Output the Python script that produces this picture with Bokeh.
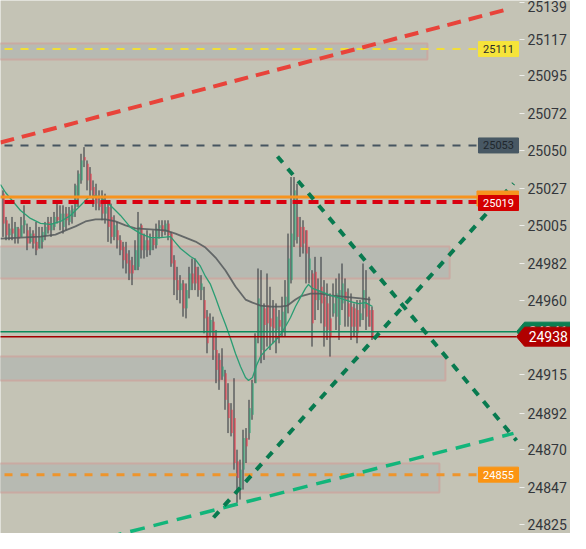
import numpy as np
from bokeh.plotting import figure
from bokeh.models import Range1d, FixedTicker, Label, PolyAnnotation, ColumnDataSource
from bokeh.embed import file_html
from bokeh.resources import INLINE
from bokeh.core.properties import value

# ---------------- data ----------------
opens = [25024, 25008, 24999, 25003, 24998, 25003, 24998, 25005, 25002, 24995,
         25000, 24995, 24991, 24995, 24999, 25007, 25002, 25004, 25010, 25008,
         25004, 25012, 25007, 25010, 25016, 25022, 25032, 25046, 25042, 25036,
         25028, 25022, 25020, 25022, 25012, 25016, 25010, 24998, 25002, 24996,
         24992, 24988, 24984, 24981, 24978, 24980, 25005, 24990, 24996, 24990,
         24997, 24993, 25003, 25005, 25001, 25006, 25000, 24984, 24972, 24966,
         24970, 24955, 24966, 24976, 24980, 24975, 24966, 24960, 24950, 24941,
         24947, 24930, 24924, 24914, 24916, 24898, 24894, 24889, 24863, 24846,
         24858, 24877, 24880, 24891, 24910, 24938, 24930, 24955, 24957, 24949,
         24955, 24942, 24948, 24941, 24945, 24958, 24972, 24996, 25010, 25004,
         25004, 25002, 24978, 24976, 24977, 24960, 24968, 24962, 24958, 24949,
         24952, 24950, 24945, 24958, 24965, 24958, 24956, 24955, 24954, 24948,
         24955, 24958, 24954, 24954]
highs = [25026, 25010, 25006, 25010, 25007, 25004, 25010, 25017, 25006, 25004,
         25002, 25007, 25004, 25004, 25007, 25010, 25010, 25013, 25020, 25017,
         25017, 25016, 25016, 25017, 25030, 25038, 25048, 25052, 25044, 25040,
         25032, 25030, 25026, 25026, 25024, 25020, 25018, 25011, 25007, 24999,
         24995, 24995, 24990, 24986, 24996, 25013, 25006, 25000, 25002, 25000,
         25002, 25006, 25008, 25008, 25008, 25008, 25001, 24987, 24980, 24975,
         24972, 24970, 24980, 24985, 24985, 24980, 24975, 24968, 24954, 24952,
         24950, 24942, 24928, 24931, 24918, 24910, 24898, 24913, 24870, 24864,
         24882, 24883, 24900, 24912, 24940, 24979, 24978, 24958, 24976, 24968,
         24960, 24958, 24954, 24962, 24972, 25000, 25034, 25034, 25030, 25010,
         25008, 25002, 24992, 24978, 24986, 24973, 24986, 24972, 24970, 24964,
         24970, 24973, 24976, 24982, 24973, 24967, 24964, 24958, 24960, 24960,
         24982, 24978, 24962, 24956]
lows = [24998, 24996, 24996, 24996, 24994, 24994, 24998, 25000, 24990, 24994,
        24991, 24987, 24991, 24991, 24996, 25000, 24998, 25002, 25006, 25002,
        25000, 25002, 25005, 25006, 25010, 25016, 25030, 25040, 25026, 25022,
        25016, 25014, 25014, 25008, 25006, 24995, 24994, 24996, 24991, 24987,
        24979, 24976, 24972, 24969, 24978, 24978, 24985, 24985, 24986, 24987,
        24990, 24991, 24997, 24998, 24999, 24996, 24980, 24963, 24960, 24958,
        24950, 24949, 24961, 24966, 24966, 24962, 24960, 24940, 24928, 24938,
        24924, 24910, 24906, 24912, 24894, 24880, 24878, 24858, 24838, 24840,
        24846, 24862, 24876, 24888, 24910, 24934, 24922, 24924, 24932, 24930,
        24934, 24928, 24934, 24938, 24938, 24952, 24970, 24992, 24994, 24986,
        24988, 24970, 24970, 24932, 24948, 24954, 24946, 24932, 24936, 24926,
        24950, 24942, 24936, 24954, 24944, 24944, 24936, 24938, 24934, 24944,
        24948, 24942, 24944, 24936]
closes = [25006, 24999, 25003, 25000, 25004, 24997, 25005, 25008, 24994, 25000,
          24994, 24990, 24998, 25001, 25004, 25002, 25006, 25010, 25008, 25012,
          25012, 25008, 25014, 25015, 25029, 25036, 25044, 25044, 25032, 25026,
          25022, 25018, 25016, 25012, 25016, 25004, 24998, 25005, 24996, 24990,
          24984, 24982, 24976, 24976, 24990, 25004, 24990, 24996, 24990, 24997,
          24993, 25003, 25005, 25001, 25006, 24999, 24982, 24972, 24966, 24970,
          24955, 24966, 24976, 24970, 24970, 24966, 24970, 24949, 24934, 24948,
          24930, 24918, 24912, 24920, 24900, 24889, 24880, 24862, 24853, 24858,
          24877, 24872, 24895, 24910, 24937, 24961, 24957, 24945, 24946, 24944,
          24943, 24950, 24944, 24953, 24962, 24985, 25000, 25026, 24998, 24992,
          24994, 24988, 24985, 24946, 24960, 24966, 24958, 24944, 24942, 24938,
          24958, 24964, 24966, 24970, 24960, 24950, 24944, 24944, 24940, 24952,
          24966, 24950, 24944, 24938]

# moving averages (candle position, price)
ma_fast_x = [-1, 0.67, 2.33, 5.67, 9, 12.33, 15.67, 19, 22.33, 25.67, 28.33, 30.67,
             32.33, 35.67, 39, 42.33, 45.67, 49, 52.33, 55.67, 57.33, 59, 62.33, 64,
             65.67, 67.33, 69, 70.67, 72.33, 74, 75.67, 77.33, 79, 80.67, 81.67, 83,
             84.33, 85.67, 87.33, 89, 90.67, 92.33, 94, 95.67, 97.33, 99, 100.67,
             101.67, 103, 105.67, 109, 112.33, 115.67, 118.33, 120.67, 123]
ma_fast = [25029.5, 25024.7, 25021.1, 25013.9, 25009.1, 25006.1, 25005.5, 25007.3,
           25010.9, 25016.9, 25021.7, 25022.9, 25021.7, 25016.9, 25010.9, 25003.7,
           25000.0, 24997.6, 24997.6, 24998.2, 24994.6, 24991.0, 24986.2, 24984.4,
           24980.2, 24974.2, 24969.4, 24961.6, 24953.1, 24945.3, 24936.9, 24927.9,
           24920.0, 24913.4, 24911.6, 24913.4, 24920.6, 24926.1, 24929.7, 24932.7,
           24935.7, 24939.3, 24944.1, 24949.5, 24956.1, 24961.6, 24967.0, 24969.4,
           24967.0, 24965.2, 24962.8, 24961.0, 24959.1, 24957.9, 24958.5, 24956.1]
ma_slow_x = [-1, 5.67, 12.33, 17.33, 20.67, 24, 27.33, 30.67, 34, 37.33, 40.67, 44,
             49, 54, 57.33, 60.67, 64, 67.33, 70.67, 74, 77.33, 80.67, 83, 85.67,
             89, 92.33, 94.67, 97.33, 99, 102.33, 105.67, 109, 112.33, 115.67, 119,
             122.33]
ma_slow = [24997.0, 24997.6, 24998.2, 24999.4, 25001.9, 25004.3, 25007.3, 25008.5,
           25008.5, 25007.3, 25004.9, 25003.1, 25002.5, 25001.9, 25000.0, 24997.6,
           24995.2, 24991.6, 24985.6, 24977.8, 24968.2, 24960.3, 24958.5, 24956.7,
           24956.1, 24956.1, 24956.7, 24960.3, 24962.2, 24963.9, 24963.9, 24962.8,
           24962.2, 24961.6, 24961.0, 24960.3]

tick_values = [25139, 25117, 25095, 25072, 25050, 25027, 25005, 24982, 24960, 24937,
               24915, 24892, 24870, 24847, 24825]

zone_top = [25114.3, 24992.2, 24926.1, 24861.7]
zone_bottom = [25104.7, 24973.0, 24911.6, 24844.3]
zone_end = [141.3, 148.7, 147.3, 145.3]

level_yellow = 25111
level_slate = 25053
level_orange = 25022
level_red = 25019
level_orange2 = 24855
level_green = 24941
last_price = 24938

trend_red_x = [-1, 169]
trend_red_y = [25054.8, 25135.4]
trend_down_x = [91.33, 171]
trend_down_y = [25046.4, 24875.5]
trend_up_x = [70, 170]
trend_up_y = [24829.2, 25030.1]
trend_lt_x = [19, 170]
trend_lt_y = [24810.0, 24879.8]

# ---------------- figure ----------------
BG = "#c4c3b5"
DARK = "#2a2e36"
RED = "#ee2f45"
GREEN = "#22a574"
FONT = "Roboto"

W, H = 570, 533
UPP = 314 / 522            # price per pixel
Y1 = 25139 + 2 * UPP
Y0 = Y1 - H * UPP
X0 = -1
X1 = X0 + W / 3
AXIS_AT = 172              # candle position of the price axis

p = figure(width=W, height=H, x_range=Range1d(X0, X1), y_range=Range1d(Y0, Y1),
           output_backend="svg", toolbar_location=None, x_axis_location=None,
           y_axis_location="right", min_border_left=0, min_border_right=0,
           min_border_top=0, min_border_bottom=0)
p.background_fill_color = BG
p.border_fill_color = BG
p.outline_line_color = None
p.grid.visible = False

ax = p.yaxis[0]
ax.fixed_location = AXIS_AT
ax.ticker = FixedTicker(ticks=tick_values)
ax.axis_line_color = None
ax.major_tick_line_color = "#eeeeea"
ax.major_tick_out = 5
ax.major_tick_in = 0
ax.minor_tick_line_color = None
ax.major_label_standoff = 3
ax.major_label_text_font = FONT
ax.major_label_text_font_size = "14px"
ax.major_label_text_color = "#33363b"

# zones
p.quad(left=-10, right=zone_end, top=zone_top, bottom=zone_bottom,
       fill_color="#b7bab2", line_color="#c9aaa2", line_width=2)

# candles
o = np.array(opens, float); c = np.array(closes, float)
idx = np.arange(len(opens))
src = ColumnDataSource(dict(
    xw=idx - 1 / 6, xb=idx + 1 / 6, h=highs, l=lows,
    top=np.maximum(o, c), bot=np.minimum(o, c),
    col=[GREEN if cc >= oo else RED for oo, cc in zip(o, c)]))
p.segment(x0="xw", y0="l", x1="xw", y1="h", source=src, line_color=DARK, line_width=1)
p.segment(x0="xb", y0="bot", x1="xb", y1="top", source=src, line_color="col", line_width=1)

# moving averages
p.line(ma_slow_x, ma_slow, line_color="#53585a", line_width=1.8, line_alpha=0.85)
p.line(ma_fast_x, ma_fast, line_color="#2a9d73", line_width=1.3)

# horizontal levels
TAG_L, TAG_R = 158.33, 171.67
p.segment(x0=-5, y0=level_yellow, x1=TAG_L, y1=level_yellow, line_color="#f2de38",
          line_width=2, line_dash="8 8")
p.segment(x0=-5, y0=level_slate, x1=TAG_L, y1=level_slate, line_color="#465560",
          line_width=2, line_dash="8 8")
p.segment(x0=-5, y0=level_orange, x1=TAG_L, y1=level_orange, line_color="#f7931e",
          line_width=3)
p.segment(x0=-5, y0=level_red, x1=TAG_L, y1=level_red, line_color="#d90010",
          line_width=4, line_dash="10 6")
p.segment(x0=-5, y0=level_orange2, x1=TAG_L, y1=level_orange2, line_color="#ee952c",
          line_width=3, line_dash="8 8")
p.segment(x0=-5, y0=level_green, x1=171, y1=level_green, line_color="#0b8a5a", line_width=1.5)
p.segment(x0=-5, y0=last_price, x1=171, y1=last_price, line_color="#a30000", line_width=1.5)

# trend lines
p.line(trend_red_x, trend_red_y, line_color="#e8433a", line_width=4, line_dash="14 8")
p.line(trend_lt_x, trend_lt_y, line_color="#12b57a", line_width=3.5, line_dash="15 9")
p.line(trend_down_x, trend_down_y, line_color="#087a4f", line_width=4, line_dash="8 8")
p.line(trend_up_x, trend_up_y, line_color="#087a4f", line_width=4, line_dash="8 8")

# level tags inside the chart area
def frame_tag(val, fill, text_color, dy=0.0, left=TAG_L):
    half = 7.5 * UPP
    yc = val + dy * UPP
    p.quad(left=left, right=TAG_R, top=yc + half, bottom=yc - half,
           fill_color=fill, line_color=fill, line_width=1)
    p.text(x=[(TAG_L + TAG_R) / 2], y=[yc], text=[str(val)], text_align="center",
           text_baseline="middle", text_color=text_color, text_font=value(FONT),
           text_font_size="11px")

frame_tag(level_yellow, "#f6e43a", "#2b2b2b")
frame_tag(level_slate, "#485864", "#20272c")
frame_tag(level_orange, "#f7931e", "#ffffff", dy=-1.5, left=TAG_L - 0.5)
frame_tag(level_red, "#d40000", "#ffffff", dy=-1)
frame_tag(level_orange2, "#fb9413", "#ffffff")

# price tags on the axis
def axis_tag(val, fill):
    half = 9.5 * UPP
    xs = [171.0, 173.67, 191.0, 191.0, 173.67]
    ys = [val, val + half, val + half, val - half, val - half]
    p.add_layout(PolyAnnotation(xs=xs, ys=ys, fill_color=fill, fill_alpha=1.0,
                                line_color=fill, line_alpha=1.0))
    p.add_layout(Label(x=181.6, y=val, text=str(val), text_align="center",
                       text_baseline="middle", text_color="#ffffff", text_font=FONT,
                       text_font_size="14px"))

axis_tag(level_green, "#0a7f52")
axis_tag(last_price, "#b00000")

open("out.html", "w").write(file_html(p, INLINE))
